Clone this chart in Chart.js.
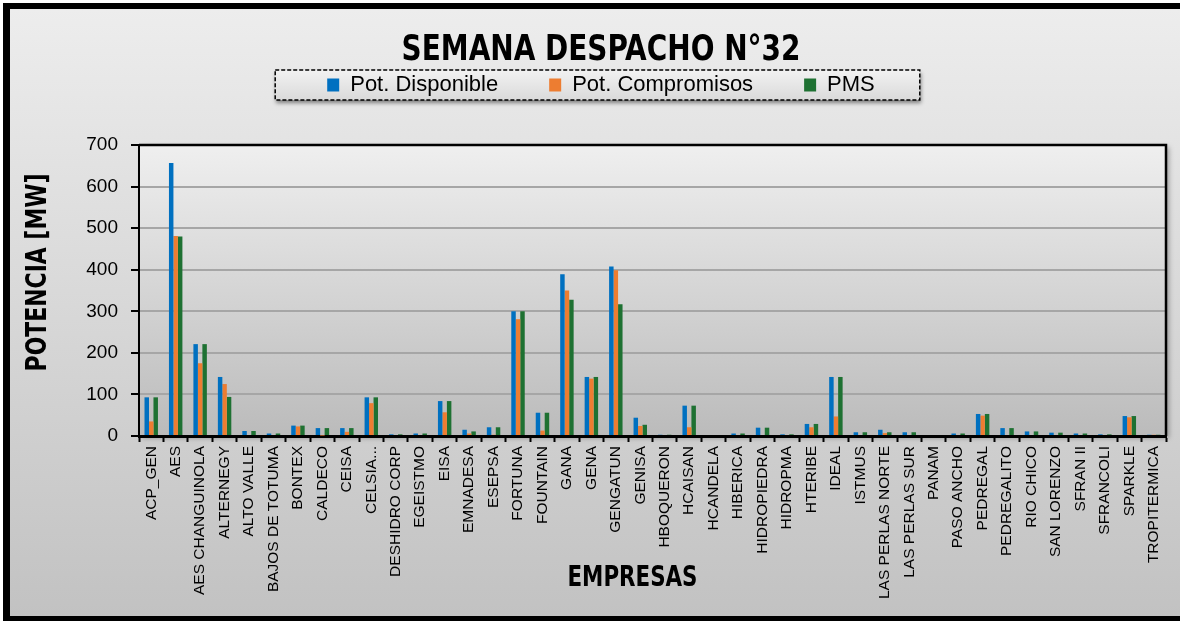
<!DOCTYPE html>
<html><head><meta charset="utf-8">
<script src="https://cdn.jsdelivr.net/npm/chart.js@4.4.1/dist/chart.umd.min.js"></script>
<style>html,body{margin:0;padding:0;background:#fff;overflow:hidden}canvas{display:block}</style>
</head><body>
<canvas id="c" width="1180" height="621"></canvas>
<script>
const categories = ['ACP_GEN','AES','AES CHANGUINOLA','ALTERNEGY','ALTO VALLE','BAJOS DE TOTUMA','BONTEX','CALDECO','CEISA','CELSIA...','DESHIDRO CORP','EGEISTMO','EISA','EMNADESA','ESEPSA','FORTUNA','FOUNTAIN','GANA','GENA','GENGATUN','GENISA','HBOQUERON','HCAISAN','HCANDELA','HIBERICA','HIDROPIEDRA','HIDROPMA','HTERIBE','IDEAL','ISTMUS','LAS PERLAS NORTE','LAS PERLAS SUR','PANAM','PASO ANCHO','PEDREGAL','PEDREGALITO','RIO CHICO','SAN LORENZO','SFRAN II','SFRANCOLI','SPARKLE','TROPITERMICA'];
const potDisponible = [93,657,221,142,12,6,25,19,19,93,4,6,84,15,21,300,56,389,142,408,44,3,73,0,6,20,4,29,142,9,15,9,0,6,53,19,11,8,6,4,48,3];
const potCompromisos = [35,481,175,125,0,0,23,1,10,79,0,0,57,6,3,281,13,350,138,399,24,0,21,0,0,0,0,21,47,0,7,0,0,0,49,0,0,0,0,0,45,3];
const pms = [93,480,221,94,12,6,25,19,19,93,4,6,84,11,21,300,56,328,142,317,27,3,73,0,6,20,4,29,142,9,9,9,0,6,53,19,11,8,6,4,48,3];
const yTicks = [0,100,200,300,400,500,600,700];

const W = 1180, H = 621;
const NARROW = "'DejaVu Sans Condensed','DejaVu Sans',sans-serif";
const SANS = "'Liberation Sans',Arial,sans-serif";

const TITLE_SIZE = 36, TITLE_LH = TITLE_SIZE*1.2, TITLE_CY = 51;
const LEG_SIZE = 22, LEG_PAD = 51, LEG_CY = 85;
const legendTop = LEG_CY - LEG_SIZE/2 - LEG_PAD;
const tPadTop = TITLE_CY - TITLE_LH/2;
const tPadBottom = legendTop - tPadTop - TITLE_LH;
const legendBottom = LEG_CY + LEG_SIZE/2 + 10;
const PLOT_TOP = 145, PLOT_BOTTOM = 436, PLOT_LEFT = 139, PAD_LEFT = 36, PAD_RIGHT = 14;
const spacer = PLOT_TOP - legendBottom;

const deco = {
  id: 'deco',
  beforeDraw(chart) {
    const {ctx, chartArea: a} = chart;
    ctx.save();
    ctx.fillStyle = '#fff'; ctx.fillRect(0, 0, W, H);
    ctx.fillStyle = '#000'; ctx.fillRect(3, 3, W - 3, H - 3);
    const g = ctx.createLinearGradient(0, 9, 0, 616);
    g.addColorStop(0, '#ededed'); g.addColorStop(1, '#c2c2c2');
    ctx.fillStyle = g; ctx.fillRect(10, 9, W - 10, 607);
    ctx.shadowColor = 'rgba(0,0,0,0.3)'; ctx.shadowBlur = 5; ctx.shadowOffsetX = 3; ctx.shadowOffsetY = 2;
    const pg = ctx.createLinearGradient(0, a.top, 0, a.bottom);
    pg.addColorStop(0, '#efefef'); pg.addColorStop(1, '#bbbbbb');
    ctx.fillStyle = pg; ctx.fillRect(a.left, a.top, a.right - a.left, a.bottom - a.top);
    ctx.shadowColor = 'transparent';
    const hb = chart.legend && chart.legend.legendHitBoxes;
    if (hb && hb.length) {
      const first = hb[0], last = hb[hb.length - 1];
      const cy = first.top + first.height / 2;
      const x0 = first.left - 52, x1 = last.left + last.width + 45, y0 = cy - 15, y1 = cy + 15;
      ctx.shadowColor = 'rgba(0,0,0,0.45)'; ctx.shadowBlur = 4; ctx.shadowOffsetX = 1; ctx.shadowOffsetY = 3;
      const lg = ctx.createLinearGradient(0, y0, 0, y1);
      lg.addColorStop(0, '#f2f2f2'); lg.addColorStop(1, '#dadada');
      ctx.fillStyle = lg; ctx.fillRect(x0, y0, x1 - x0, y1 - y0);
      ctx.shadowColor = 'transparent';
      ctx.setLineDash([4, 2]); ctx.lineWidth = 1.5; ctx.strokeStyle = '#000';
      ctx.strokeRect(x0, y0, x1 - x0, y1 - y0);
    }
    ctx.restore();
  },
  afterDraw(chart) {
    const {ctx, chartArea: a} = chart;
    ctx.save();
    ctx.strokeStyle = '#000'; ctx.lineWidth = 2.5;
    ctx.beginPath();
    ctx.moveTo(a.left, a.top); ctx.lineTo(a.right, a.top); ctx.lineTo(a.right, a.bottom);
    ctx.stroke();
    ctx.restore();
  }
};

const chart = new Chart(document.getElementById('c'), {
  type: 'bar',
  data: {
    labels: categories,
    datasets: [
      {label: 'Pot. Disponible', data: potDisponible, backgroundColor: '#0070C0'},
      {label: 'Pot. Compromisos', data: potCompromisos, backgroundColor: '#ED7D31'},
      {label: 'PMS', data: pms, backgroundColor: '#1E7132'}
    ]
  },
  options: {
    responsive: false, animation: false, devicePixelRatio: 1,
    datasets: {bar: {categoryPercentage: 0.55, barPercentage: 1, borderWidth: 0}},
    layout: {padding: {left: PAD_LEFT, right: PAD_RIGHT, top: 0, bottom: 0}},
    plugins: {
      title: {display: true, text: 'SEMANA DESPACHO N°32', color: '#000',
        font: {family: NARROW, size: TITLE_SIZE, weight: 'bold', lineHeight: 1.2},
        padding: {top: tPadTop, bottom: tPadBottom}},
      subtitle: {display: true, text: ' ', weight: 500, font: {size: 10, lineHeight: 1},
        padding: {top: spacer - 10, bottom: 0}},
      legend: {position: 'top', labels: {font: {family: SANS, size: LEG_SIZE}, color: '#000',
        boxWidth: 12, boxHeight: 13, padding: LEG_PAD}},
      tooltip: {enabled: false}
    },
    scales: {
      x: {
        grid: {offset: true, drawOnChartArea: false, tickLength: 6, tickColor: '#000', tickWidth: 2},
        border: {color: '#000', width: 3},
        ticks: {autoSkip: false, minRotation: 90, maxRotation: 90, color: '#000',
          font: {family: SANS, size: 15.5}, padding: 4},
        title: {display: true, text: 'EMPRESAS', color: '#000',
          font: {family: NARROW, size: 29, weight: 'bold', lineHeight: 1.2}, padding: {top: 0, bottom: 25.6}},
        afterFit(s) { s.height = H - PLOT_BOTTOM; }
      },
      y: {
        min: 0, max: 700,
        afterBuildTicks(s) { s.ticks = yTicks.map(v => ({value: v})); },
        ticks: {color: '#000', font: {family: SANS, size: 19}, padding: 13},
        grid: {color: '#a6a6a6', lineWidth: 2, tickColor: '#000', tickLength: 8, tickWidth: 2},
        border: {color: '#000', width: 2},
        title: {display: true, text: 'POTENCIA [MW]', color: '#000',
          font: {family: NARROW, size: 28, weight: 'bold', lineHeight: 0.2}, padding: 0},
        afterFit(s) { s.width = PLOT_LEFT - PAD_LEFT; }
      }
    }
  },
  plugins: [deco]
});

// condense the library-drawn titles horizontally (reference uses a condensed face)
const tb = chart.titleBlock, tbDraw = tb.draw;
tb.draw = function(...args) {
  const c = this.ctx, cx = (this.left + this.right) / 2;
  c.save(); c.translate(cx, 0); c.scale(0.863, 1); c.translate(-cx, 0);
  tbDraw.apply(this, args); c.restore();
};
const xs = chart.scales.x, xDT = xs.drawTitle;
xs.drawTitle = function(...args) {
  const c = this.ctx, cx = (this.left + this.right) / 2;
  c.save(); c.translate(cx - 20, 0); c.scale(0.82, 1); c.translate(-cx, 0);
  xDT.apply(this, args); c.restore();
};
const ys = chart.scales.y, yDT = ys.drawTitle;
ys.drawTitle = function(...args) {
  const c = this.ctx, cy = (this.top + this.bottom) / 2;
  c.save(); c.translate(0, cy - 18); c.scale(1, 0.87); c.translate(0, -cy);
  yDT.apply(this, args); c.restore();
};
chart.draw();
</script>
</body></html>
